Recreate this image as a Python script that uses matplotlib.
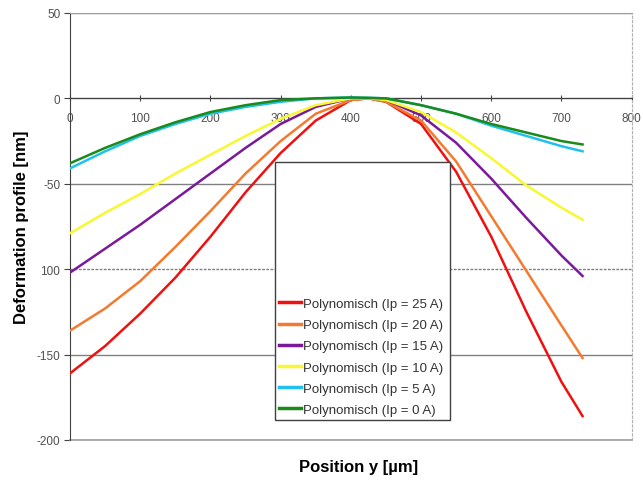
import matplotlib
matplotlib.use('Agg')
import matplotlib.pyplot as plt
from matplotlib.patches import Rectangle

# positions along y [um]
pos = [0, 50, 100, 150, 200, 250, 300, 350, 400, 425, 450, 500, 550, 600, 650, 700, 730]

# deformation [nm]
ip25 = [-161, -145, -126, -105, -81, -55, -32, -13, -1, 0, -2, -15, -43, -81, -125, -166, -186]
ip20 = [-136, -123, -107, -87, -66, -44, -25, -9, -1, 0, -2, -13, -37, -69, -101, -133, -152]
ip15 = [-102, -88, -74, -59, -44, -29, -15, -5, 0, 0, -1, -10, -26, -47, -70, -92, -104]
ip10 = [-79, -67, -56, -44, -33, -22, -12, -4, 0, 0, -1, -8, -20, -35, -51, -64, -71]
ip5 = [-41, -31, -22, -15, -9, -5, -2, 0, 0.5, 0.3, 0, -4, -9, -16, -22, -28, -31]
ip0 = [-38, -29, -21, -14, -8, -4, -1, 0, 0.5, 0.3, 0, -4, -9, -15, -20, -25, -27]

series = [ip25, ip20, ip15, ip10, ip5, ip0]
labels = ['Polynomisch (Ip = 25 A)', 'Polynomisch (Ip = 20 A)', 'Polynomisch (Ip = 15 A)',
          'Polynomisch (Ip = 10 A)', 'Polynomisch (Ip = 5 A)', 'Polynomisch (Ip = 0 A)']
colors = ['#f01010', '#f47a30', '#7a1a9a', '#f8f830', '#20c0f0', '#1a8a1a']

xticks = [0, 100, 200, 300, 400, 500, 600, 700, 800]
yticks = [-200, -150, -100, -50, 0, 50]
ytick_labels = ['-200', '-150', '100', '-50', '0', '50']

plt.rcParams['font.family'] = ['Liberation Sans', 'DejaVu Sans']

fig = plt.figure(figsize=(6.43, 4.81), dpi=100)
ax = fig.add_axes([0.1089, 0.0832, 0.8735, 0.8878])

for ys, lab, c in zip(series, labels, colors):
    ax.plot(pos, ys, color=c, lw=1.8, label=lab, zorder=3)

ax.set_xlim(0, 800)
ax.set_ylim(-200, 50)
ax.set_xticks(xticks)
ax.set_yticks(yticks)
ax.set_yticklabels(ytick_labels)

ax.yaxis.grid(True, color='#808080', lw=1.0)
for val, gl in zip(yticks, ax.get_ygridlines()):
    if val == -100:
        gl.set_linestyle((0, (2, 1)))
ax.set_axisbelow(True)

ax.spines['bottom'].set_position(('data', 0))
ax.spines['bottom'].set_color('#404040')
ax.spines['left'].set_color('#404040')
ax.spines['top'].set_color('#a0a0a0')
ax.spines['right'].set_color('#b0b0b0')
ax.spines['right'].set_linestyle((0, (2, 2)))
ax.axhline(-200, color='#a0a0a0', lw=1.2, clip_on=False, zorder=1)

ax.tick_params(axis='x', direction='inout', length=4, pad=8, labelsize=8.5,
               colors='#404040', labelcolor='#505050')
ax.tick_params(axis='y', direction='out', length=4, pad=3, labelsize=8.5,
               colors='#404040', labelcolor='#505050')

# legend box
box = Rectangle((0.365, 0.047), 0.311, 0.604, transform=ax.transAxes,
                facecolor='white', edgecolor='#404040', lw=1.0, zorder=4)
ax.add_patch(box)
leg = ax.legend(loc='lower left', bbox_to_anchor=(0.365, 0.047), frameon=False,
                fontsize=9.5, handlelength=1.7, handletextpad=0.15, labelspacing=0.68,
                borderpad=0.3, borderaxespad=0)
leg.set_zorder(5)
for t in leg.get_texts():
    t.set_color('#333333')
for h in leg.get_lines():
    h.set_linewidth(2.5)

fig.text(0.033, 0.527, 'Deformation profile [nm]', rotation=90, fontsize=12,
         fontweight='bold', ha='center', va='center')
fig.text(0.557, 0.029, 'Position y [\u00b5m]', fontsize=12, fontweight='bold',
         ha='center', va='center')

fig.savefig('out.png', dpi=100)
